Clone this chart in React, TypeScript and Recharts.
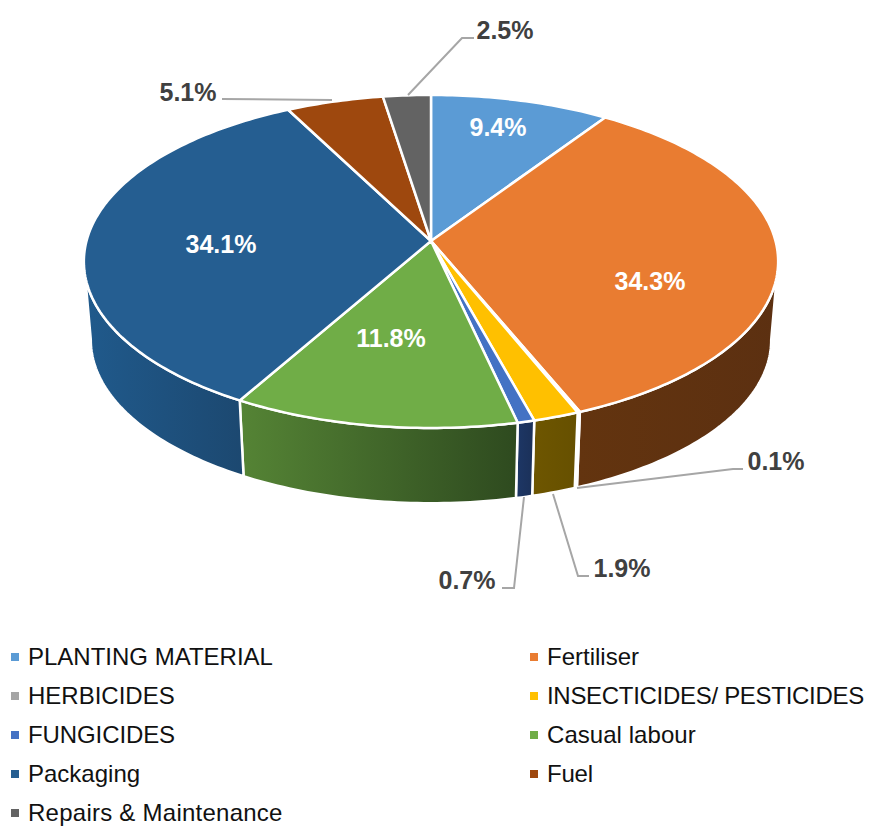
import React from "react";
import { PieChart, Pie, Legend } from "recharts";

const categories = [
  "PLANTING MATERIAL",
  "Fertiliser",
  "HERBICIDES",
  "INSECTICIDES/ PESTICIDES",
  "FUNGICIDES",
  "Casual labour",
  "Packaging",
  "Fuel",
  "Repairs & Maintenance",
];
const shares = [9.4, 34.3, 0.1, 1.9, 0.7, 11.8, 34.1, 5.1, 2.5];

const topColors = ["#5B9BD5", "#E97C31", "#A5A5A5", "#FFC000", "#4472C4", "#70AD47", "#255E91", "#9E480E", "#636363"];
const wallLeft = ["#3D6A91", "#63340F", "#707070", "#6E5600", "#1D3766", "#558435", "#205A8C", "#6B3009", "#434343"];
const wallRight = ["#3D6A91", "#5C3011", "#707070", "#665000", "#1B3058", "#2E4A1F", "#1C4870", "#6B3009", "#434343"];

// the reference's legend text runs a touch tighter or looser per entry
const legendTracking = [0, 0, 0, -0.3, -0.1, 0.05, 0, -0.2, 0.25];

const data = categories.map((name, i) => ({ name, value: shares[i], fill: topColors[i] }));

// annotation placement: text centre, then the leader polyline
const labelSpots: { x: number; y: number; color: string; leader?: number[][] }[] = [
  { x: 498, y: 127, color: "#fff" },
  { x: 650, y: 281, color: "#fff" },
  { x: 776, y: 461, color: "#404040", leader: [[577, 488], [733, 469], [743, 469]] },
  { x: 622, y: 568, color: "#404040", leader: [[553, 494], [578, 576], [589, 576]] },
  { x: 467, y: 580, color: "#404040", leader: [[524, 497], [514, 588], [502, 588]] },
  { x: 391, y: 338, color: "#fff" },
  { x: 221, y: 244, color: "#fff" },
  { x: 188, y: 92, color: "#404040", leader: [[332, 100], [222, 99]] },
  { x: 505, y: 30, color: "#404040", leader: [[408, 95], [462, 38], [474, 38]] },
];

const FONT = "'Liberation Sans', Arial, sans-serif";
const TILT = 0.476; // vertical squash of the disc
const PERSP = 0.123; // far edge is drawn smaller than the near edge
const DEPTH_Y = 79; // how far below the top face the base centre sits
const BASE_SHRINK = 0.98;

// recharts angle (deg, ccw from +x) -> point on the perspective disc
const project = (cx: number, cy: number, r: number, deg: number) => {
  const a = (deg * Math.PI) / 180;
  const u = Math.cos(a);
  const v = Math.sin(a);
  const w = 1 + PERSP * v;
  return [cx + (r * u) / w, cy - (r * TILT * v) / w];
};

const arcPoints = (cx: number, cy: number, r: number, from: number, to: number) => {
  const steps = Math.max(2, Math.ceil(Math.abs(to - from)));
  const pts: number[][] = [];
  for (let i = 0; i <= steps; i++) pts.push(project(cx, cy, r, from + ((to - from) * i) / steps));
  return pts;
};

const toPath = (pts: number[][]) =>
  pts.map((p, i) => `${i ? "L" : "M"}${p[0].toFixed(2)},${p[1].toFixed(2)}`).join(" ") + " Z";

const TopFace = (props: any) => {
  const { cx, cy, outerRadius, startAngle, endAngle, fill } = props;
  const pts = [[cx, cy], ...arcPoints(cx, cy, outerRadius, startAngle, endAngle)];
  return <path d={toPath(pts)} fill={fill} stroke="#fff" strokeWidth={2.5} strokeLinejoin="round" />;
};

// side wall: only the part of each slice that faces the viewer (angle below the tangents)
const WallFace = (props: any) => {
  const { cx, cy, outerRadius, startAngle, endAngle, index } = props;
  const from = Math.min(startAngle, -7);
  const to = Math.max(endAngle, -173);
  if (from <= to) return <g />;
  const top = arcPoints(cx, cy, outerRadius, from, to);
  const base = arcPoints(cx, cy + DEPTH_Y, outerRadius * BASE_SHRINK, to, from);
  const id = `wall-${index}`;
  return (
    <g>
      <defs>
        <linearGradient id={id} x1="0" y1="0" x2="1" y2="0">
          <stop offset="0%" stopColor={wallLeft[index]} />
          <stop offset="100%" stopColor={wallRight[index]} />
        </linearGradient>
      </defs>
      <path d={toPath([...top, ...base])} fill={`url(#${id})`} stroke="#fff" strokeWidth={2.5} strokeLinejoin="round" />
    </g>
  );
};

const renderLabel = (props: any) => {
  const spot = labelSpots[props.index];
  return (
    <g key={props.index}>
      {spot.leader && (
        <polyline
          points={spot.leader.map((p) => p.join(",")).join(" ")}
          fill="none"
          stroke="#A6A6A6"
          strokeWidth={2}
        />
      )}
      <text
        x={spot.x}
        y={spot.y}
        fill={spot.color}
        fontFamily={FONT}
        fontSize={25}
        fontWeight={700}
        textAnchor="middle"
        dominantBaseline="central"
      >
        {shares[props.index]}%
      </text>
    </g>
  );
};

const LegendGrid = () => (
  <div
    style={{
      display: "grid",
      gridTemplateColumns: "520px 337px",
      gridAutoRows: "39px",
      fontFamily: FONT,
      fontSize: 24,
      color: "#111",
      paddingLeft: 12,
      boxSizing: "border-box",
    }}
  >
    {categories.map((name, i) => (
      <div
        key={name}
        style={{
          display: "flex",
          alignItems: "center",
          whiteSpace: "nowrap",
          marginLeft: i % 2 ? -2 : -1,
          letterSpacing: legendTracking[i],
        }}
      >
        <span style={{ width: 8, height: 8, background: topColors[i], marginRight: 9, flex: "none" }} />
        {name}
      </div>
    ))}
  </div>
);

export default function App() {
  return (
    <div style={{ position: "absolute", left: 0, top: 0, width: 869, height: 828, background: "#fff" }}>
      <PieChart width={869} height={828} margin={{ top: 0, right: 0, bottom: 0, left: 0 }}>
        <Pie
          data={data}
          dataKey="value"
          nameKey="name"
          cx={431}
          cy={241}
          outerRadius={344.5}
          startAngle={90}
          endAngle={-270}
          stroke="none"
          legendType="none"
          shape={WallFace}
          isAnimationActive={false}
        />
        <Pie
          data={data}
          dataKey="value"
          nameKey="name"
          cx={431}
          cy={241}
          outerRadius={344.5}
          startAngle={90}
          endAngle={-270}
          stroke="none"
          shape={TopFace}
          label={renderLabel}
          labelLine={false}
          isAnimationActive={false}
        />
        <Legend content={<LegendGrid />} wrapperStyle={{ left: 0, top: 637, width: 869 }} />
      </PieChart>
    </div>
  );
}
